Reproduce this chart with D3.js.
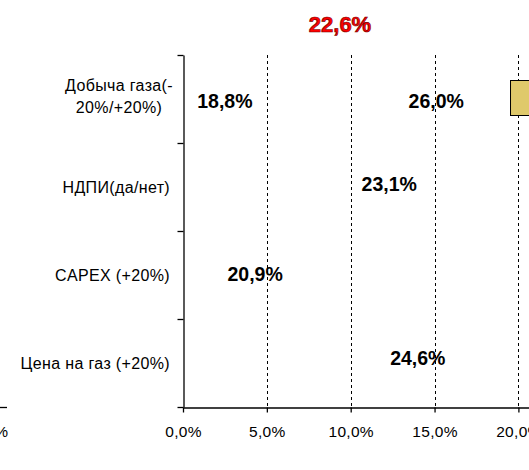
<!DOCTYPE html>
<html><head><meta charset="utf-8">
<script src="https://cdn.jsdelivr.net/npm/d3@7"></script>
<style>
html,body{margin:0;padding:0;background:#fff;overflow:hidden;}
text{font-family:"Liberation Sans",Arial,sans-serif;}
</style></head>
<body>
<svg id="c" width="529" height="470"></svg>
<script>
// ---- data ----
const title = "22,6%";
const categories = ["Добыча газа(-|20%/+20%)", "НДПИ(да/нет)", "CAPEX (+20%)", "Цена на газ (+20%)"];
const barLow  = [19.5, 22.6, 20.9, 22.6];
const barHigh = [26.0, 23.1, 22.6, 24.6];
const labelText = ["18,8%", "26,0%", "23,1%", "20,9%", "24,6%"];
const labelCat  = [0, 0, 1, 2, 3];
const labelAt   = [2.5, 15.1, 12.3, 4.3, 14.0];
const xTicks = [0, 5, 10, 15, 20];
const gridTicks = [5, 10, 15, 20, 25, 30];

// ---- layout ----
const svg = d3.select("#c");
const x0 = 183, pxPer = 16.77;
const yTop = 55, yBottom = 407;
const labelNudge = [9, 9, 3.5, 5.5, 1.5];
const x = d3.scaleLinear().domain([0, 30]).range([x0, x0 + 30 * pxPer]);
const y = d3.scaleBand().domain(d3.range(categories.length)).range([yTop, yBottom]).padding(0);
const fmt = v => d3.format(".1f")(v).replace(".", ",") + "%";

// gridlines
svg.append("g").selectAll("line").data(gridTicks).join("line")
  .attr("x1", d => Math.round(x(d)) + 0.5).attr("x2", d => Math.round(x(d)) + 0.5)
  .attr("y1", yTop).attr("y2", yBottom)
  .attr("stroke", "#000").attr("stroke-width", 1).attr("stroke-dasharray", "3,3");

// bars
svg.append("g").selectAll("rect").data(categories).join("rect")
  .attr("x", (d, i) => x(barLow[i]) + 0.5)
  .attr("width", (d, i) => x(barHigh[i]) - x(barLow[i]))
  .attr("y", (d, i) => y(i) + 25.5)
  .attr("height", 35)
  .attr("fill", "#dfc96b").attr("stroke", "#000").attr("stroke-width", 1);

// x axis
const xa = svg.append("g").attr("transform", `translate(0,${yBottom + 0.5})`)
  .call(d3.axisBottom(x).tickValues(xTicks).tickFormat(fmt).tickSize(5).tickSizeOuter(0).tickPadding(13));
xa.select(".domain").attr("stroke", "#000").attr("stroke-width", 1.3);
xa.selectAll(".tick line").attr("stroke", "#000").attr("stroke-width", 1.3);
xa.selectAll(".tick text").attr("font-size", "15.5px").attr("fill", "#000")
  .attr("font-family", "'Liberation Sans',Arial,sans-serif").attr("letter-spacing", "0.3px");

// y axis
const yb = d3.scaleLinear().domain([0, categories.length]).range([yTop, yBottom]);
const ya = svg.append("g").attr("transform", `translate(${x0 + 0.5},0)`)
  .call(d3.axisLeft(yb).tickValues(d3.range(categories.length + 1)).tickFormat("").tickSize(6).tickSizeOuter(0));
ya.select(".domain").attr("stroke", "#000").attr("stroke-width", 1.3);
ya.selectAll(".tick line").attr("stroke", "#000").attr("stroke-width", 1.3);

// category labels
categories.forEach((c, i) => {
  const cy = y(i) + y.bandwidth() / 2;
  const parts = c.split("|");
  if (parts.length > 1) {
    const t = svg.append("text").attr("text-anchor", "middle").attr("font-size", "16px")
      .attr("letter-spacing", "0.35px").attr("fill", "#000");
    parts.forEach((p, k) => t.append("tspan").attr("x", 119).attr("y", cy - 8 + k * 22).text(p));
  } else {
    svg.append("text").attr("x", 170).attr("y", cy + 6).attr("text-anchor", "end")
      .attr("font-size", "16px").attr("letter-spacing", "0.35px").attr("fill", "#000").text(c);
  }
});

// data labels
svg.append("g").selectAll("text").data(labelText).join("text")
  .attr("x", (d, i) => x(labelAt[i]))
  .attr("y", (d, i) => y(labelCat[i]) + y.bandwidth() / 2 + labelNudge[i])
  .attr("text-anchor", "middle").attr("font-size", "19.5px").attr("font-weight", "bold")
  .attr("fill", "#000").text(d => d);

// title
svg.append("text").attr("x", 340).attr("y", 31.5).attr("text-anchor", "middle")
  .attr("font-size", "22px").attr("font-weight", "bold").attr("fill", "#ff0000")
  .attr("stroke", "#7a0000").attr("stroke-width", 0.7).text(title);

// fragment of neighbouring chart at left edge
svg.append("line").attr("x1", 0).attr("x2", 7).attr("y1", yBottom + 0.5).attr("y2", yBottom + 0.5)
  .attr("stroke", "#000").attr("stroke-width", 1.3);
svg.append("text").attr("x", 8).attr("y", 437).attr("text-anchor", "end")
  .attr("font-size", "15.5px").attr("fill", "#000").text("0%");
</script>
</body></html>
